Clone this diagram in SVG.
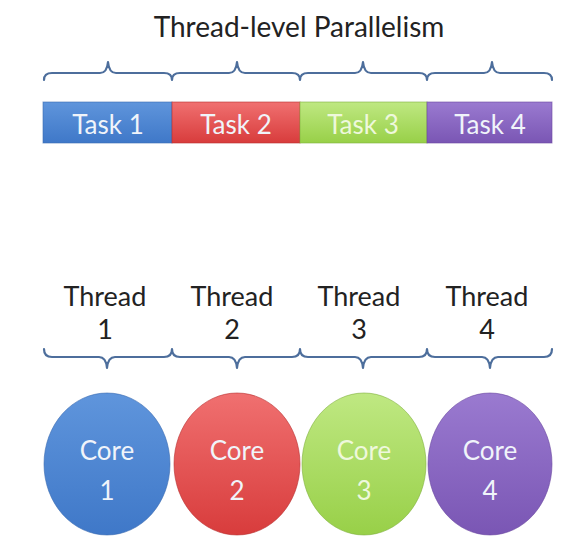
<svg xmlns="http://www.w3.org/2000/svg" width="565" height="550" viewBox="0 0 565 550">
<defs>
<linearGradient id="gBlue" x1="0" y1="0" x2="0" y2="1"><stop offset="0" stop-color="#5f95dc"/><stop offset="1" stop-color="#3f78c8"/></linearGradient>
<linearGradient id="gRed" x1="0" y1="0" x2="0" y2="1"><stop offset="0" stop-color="#f07070"/><stop offset="1" stop-color="#d83c3c"/></linearGradient>
<linearGradient id="gGreen" x1="0" y1="0" x2="0" y2="1"><stop offset="0" stop-color="#bfe882"/><stop offset="1" stop-color="#98d048"/></linearGradient>
<linearGradient id="gPurple" x1="0" y1="0" x2="0" y2="1"><stop offset="0" stop-color="#9a7ad0"/><stop offset="1" stop-color="#7a56b4"/></linearGradient>
</defs>
<style>
.t{font-family:Lato,"Open Sans","Liberation Sans",sans-serif;text-anchor:middle}
.title{font-size:28px;fill:#222}
.th{font-size:27px;fill:#222}
.lab{font-size:26px;fill:#f0f4fa}
.brace{fill:none;stroke:#4d6e9c;stroke-width:2.2;stroke-linecap:round;stroke-linejoin:round}
.edge{stroke-width:1;stroke-opacity:0.6}
</style>
<text class="t title" x="299" y="37">Thread-level Parallelism</text>
<g id="connectors">
<path class="brace" d="M44 80 Q44 73 52 73 L100 73 Q107 73 108 62 Q109 73 116 73 L164 73 Q172 73 172 80 Q172 73 180 73 L229 73 Q236 73 237 62 Q238 73 245 73 L292 73 Q300 73 300 80 Q300 73 308 73 L355 73 Q362 73 363 62 Q364 73 371 73 L419 73 Q427 73 427 80 Q427 73 435 73 L484 73 Q491 73 492 62 Q493 73 500 73 L544 73 Q552 73 552 80"/>
<path class="brace" d="M44 349 Q44 357 52 357 L99 357 Q106 357 107 368 Q108 357 115 357 L164 357 Q172 357 172 349 Q172 357 180 357 L229 357 Q236 357 237 368 Q238 357 245 357 L292 357 Q300 357 300 349 Q300 357 308 357 L355 357 Q362 357 363 368 Q364 357 371 357 L419 357 Q427 357 427 349 Q427 357 435 357 L482 357 Q489 357 490 368 Q491 357 498 357 L544 357 Q552 357 552 349"/>
</g>
<g id="task1"><rect x="43" y="102" width="129" height="41" fill="url(#gBlue)" stroke="#3a6ab0" class="edge"/><text class="t lab" x="108" y="134">Task 1</text></g>
<g id="task2"><rect x="172" y="102" width="128" height="41" fill="url(#gRed)" stroke="#b83030" class="edge"/><text class="t lab" x="236" y="134">Task 2</text></g>
<g id="task3"><rect x="300" y="102" width="127" height="41" fill="url(#gGreen)" stroke="#80b040" class="edge"/><text class="t lab" x="363" y="134" fill="#eef8dc" style="fill:#eef8dc">Task 3</text></g>
<g id="task4"><rect x="427" y="102" width="125" height="41" fill="url(#gPurple)" stroke="#6a48a0" class="edge"/><text class="t lab" x="490" y="134">Task 4</text></g>
<g id="thread1"><text class="t th" x="105" y="306">Thread</text><text class="t th" x="105" y="339">1</text></g>
<g id="thread2"><text class="t th" x="232" y="306">Thread</text><text class="t th" x="232" y="339">2</text></g>
<g id="thread3"><text class="t th" x="359" y="306">Thread</text><text class="t th" x="359" y="339">3</text></g>
<g id="thread4"><text class="t th" x="487" y="306">Thread</text><text class="t th" x="487" y="339">4</text></g>
<g id="core1"><ellipse cx="107" cy="464" rx="63" ry="71" fill="url(#gBlue)" stroke="#3a6ab0" class="edge"/><text class="t lab" x="107" y="460">Core</text><text class="t lab" x="107" y="500">1</text></g>
<g id="core2"><ellipse cx="237" cy="464" rx="63" ry="71" fill="url(#gRed)" stroke="#b83030" class="edge"/><text class="t lab" x="237" y="460">Core</text><text class="t lab" x="237" y="500">2</text></g>
<g id="core3"><ellipse cx="364" cy="464" rx="62" ry="71" fill="url(#gGreen)" stroke="#80b040" class="edge"/><text class="t lab" x="364" y="460" style="fill:#eef8dc">Core</text><text class="t lab" x="364" y="500" style="fill:#eef8dc">3</text></g>
<g id="core4"><ellipse cx="490" cy="464" rx="62" ry="71" fill="url(#gPurple)" stroke="#6a48a0" class="edge"/><text class="t lab" x="490" y="460">Core</text><text class="t lab" x="490" y="500">4</text></g>
</svg>
